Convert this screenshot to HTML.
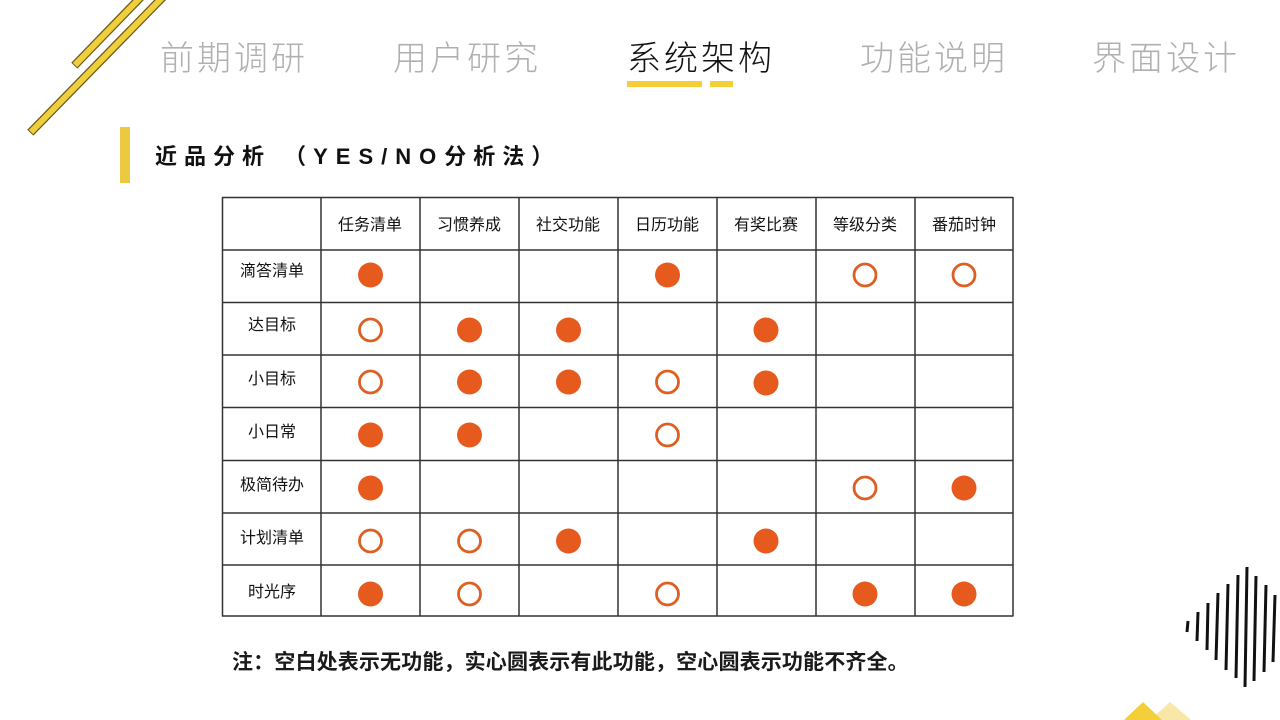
<!DOCTYPE html>
<html>
<head>
<meta charset="utf-8">
<style>
  html,body{margin:0;padding:0;}
  body{width:1280px;height:720px;position:relative;overflow:hidden;background:#fff;
       font-family:"Liberation Sans","Noto Sans CJK SC",sans-serif;}
  .nav{position:absolute;top:42px;font-size:34px;line-height:34px;letter-spacing:3px;
       color:#b0b0b0;font-weight:300;white-space:nowrap;}
  .nav.active{color:#111;}
  .bar{position:absolute;background:#f5cf3a;}
  .title{position:absolute;left:155px;top:146px;font-size:22px;line-height:22px;font-weight:bold;
         letter-spacing:7px;color:#111;white-space:nowrap;}
  .title .lat{letter-spacing:8px;}
  .t{position:absolute;font-size:16px;line-height:16px;color:#111;white-space:nowrap;
     width:98px;text-align:center;}
  .note{position:absolute;left:232px;top:652px;font-size:21px;line-height:22px;font-weight:bold;
        color:#1a1a1a;white-space:nowrap;letter-spacing:0.15px;}
  svg{position:absolute;left:0;top:0;}
</style>
</head>
<body>
<svg width="1280" height="720" viewBox="0 0 1280 720">
  <!-- diagonal lines -->
  <line x1="143.5" y1="-5.7" x2="74.3" y2="65.7" stroke="#6b5a1a" stroke-width="8.5"/>
  <line x1="143.5" y1="-5.7" x2="75" y2="65" stroke="#f0cf3c" stroke-width="6"/>
  <line x1="165.5" y1="-5.6" x2="30.3" y2="132.7" stroke="#6b5a1a" stroke-width="8.5"/>
  <line x1="165.5" y1="-5.6" x2="31" y2="132" stroke="#f0cf3c" stroke-width="6"/>
  <!-- section bar -->
  <rect x="120" y="127" width="10" height="56" fill="#ebc941"/>
  <!-- table grid -->
  <g stroke="#333" stroke-width="1.5">
    <line x1="222" y1="197.5" x2="1013" y2="197.5"/>
    <line x1="222" y1="250" x2="1013" y2="250"/>
    <line x1="222" y1="302.5" x2="1013" y2="302.5"/>
    <line x1="222" y1="355" x2="1013" y2="355"/>
    <line x1="222" y1="407.5" x2="1013" y2="407.5"/>
    <line x1="222" y1="460.5" x2="1013" y2="460.5"/>
    <line x1="222" y1="513" x2="1013" y2="513"/>
    <line x1="222" y1="565" x2="1013" y2="565"/>
    <line x1="222" y1="616" x2="1013" y2="616"/>
    <line x1="222.5" y1="197" x2="222.5" y2="616.5"/>
    <line x1="321" y1="197" x2="321" y2="616.5"/>
    <line x1="420" y1="197" x2="420" y2="616.5"/>
    <line x1="519" y1="197" x2="519" y2="616.5"/>
    <line x1="618" y1="197" x2="618" y2="616.5"/>
    <line x1="717" y1="197" x2="717" y2="616.5"/>
    <line x1="816" y1="197" x2="816" y2="616.5"/>
    <line x1="915" y1="197" x2="915" y2="616.5"/>
    <line x1="1013" y1="197" x2="1013" y2="616.5"/>
  </g>
  <!-- circles -->
  <g fill="#e65a1e">
    <circle cx="370.5" cy="275" r="12.5"/>
    <circle cx="667.5" cy="275" r="12.5"/>
    <circle cx="469.5" cy="330" r="12.5"/>
    <circle cx="568.5" cy="330" r="12.5"/>
    <circle cx="766" cy="330" r="12.5"/>
    <circle cx="469.5" cy="382" r="12.5"/>
    <circle cx="568.5" cy="382" r="12.5"/>
    <circle cx="766" cy="383" r="12.5"/>
    <circle cx="370.5" cy="435" r="12.5"/>
    <circle cx="469.5" cy="435" r="12.5"/>
    <circle cx="370.5" cy="488" r="12.5"/>
    <circle cx="964" cy="488" r="12.5"/>
    <circle cx="568.5" cy="541" r="12.5"/>
    <circle cx="766" cy="541" r="12.5"/>
    <circle cx="370.5" cy="594" r="12.5"/>
    <circle cx="865" cy="594" r="12.5"/>
    <circle cx="964" cy="594" r="12.5"/>
  </g>
  <g fill="none" stroke="#dc5f24" stroke-width="2.8">
    <circle cx="865" cy="275" r="11"/>
    <circle cx="964" cy="275" r="11"/>
    <circle cx="370.5" cy="330" r="11"/>
    <circle cx="370.5" cy="382" r="11"/>
    <circle cx="667.5" cy="382" r="11"/>
    <circle cx="667.5" cy="435" r="11"/>
    <circle cx="865" cy="488" r="11"/>
    <circle cx="370.5" cy="541" r="11"/>
    <circle cx="469.5" cy="541" r="11"/>
    <circle cx="469.5" cy="594" r="11"/>
    <circle cx="667.5" cy="594" r="11"/>
  </g>
  <!-- striped diamond -->
  <g stroke="#111" stroke-width="3">
    <line x1="1188" y1="621" x2="1187" y2="632"/>
    <line x1="1198" y1="612" x2="1197" y2="641"/>
    <line x1="1208" y1="603" x2="1207" y2="650"/>
    <line x1="1218" y1="593" x2="1216" y2="660"/>
    <line x1="1228" y1="584" x2="1226" y2="670"/>
    <line x1="1238" y1="575" x2="1236" y2="678"/>
    <line x1="1247" y1="567" x2="1245" y2="687"/>
    <line x1="1256" y1="576" x2="1254" y2="681"/>
    <line x1="1266" y1="585" x2="1264" y2="672"/>
    <line x1="1275" y1="595" x2="1273" y2="662"/>
  </g>
  <!-- bottom triangles -->
  <polygon points="1150,720 1170,702 1191,720" fill="#f8e7a6"/>
  <polygon points="1124,720 1143,702 1162,720" fill="#f5cf3a"/>
</svg>

<div class="nav" style="left:160px;">前期调研</div>
<div class="nav" style="left:393px;">用户研究</div>
<div class="nav active" style="left:627px;">系统架构</div>
<div class="nav" style="left:860px;">功能说明</div>
<div class="nav" style="left:1092px;">界面设计</div>
<div class="bar" style="left:627px;top:81px;width:75px;height:6px;"></div>
<div class="bar" style="left:710px;top:81px;width:23px;height:6px;"></div>

<div class="title">近品分析 （<span class="lat">YES/NO</span>分析法）</div>

<!-- header -->
<div class="t" style="left:321px;top:218px;">任务清单</div>
<div class="t" style="left:420px;top:218px;">习惯养成</div>
<div class="t" style="left:519px;top:218px;">社交功能</div>
<div class="t" style="left:618px;top:218px;">日历功能</div>
<div class="t" style="left:717px;top:218px;">有奖比赛</div>
<div class="t" style="left:816px;top:218px;">等级分类</div>
<div class="t" style="left:915px;top:218px;">番茄时钟</div>
<!-- row labels -->
<div class="t" style="left:223px;top:264px;">滴答清单</div>
<div class="t" style="left:223px;top:318px;">达目标</div>
<div class="t" style="left:223px;top:372px;">小目标</div>
<div class="t" style="left:223px;top:425px;">小日常</div>
<div class="t" style="left:223px;top:478px;">极简待办</div>
<div class="t" style="left:223px;top:531px;">计划清单</div>
<div class="t" style="left:223px;top:585px;">时光序</div>

<div class="note">注：空白处表示无功能，实心圆表示有此功能，空心圆表示功能不齐全。</div>
</body>
</html>
